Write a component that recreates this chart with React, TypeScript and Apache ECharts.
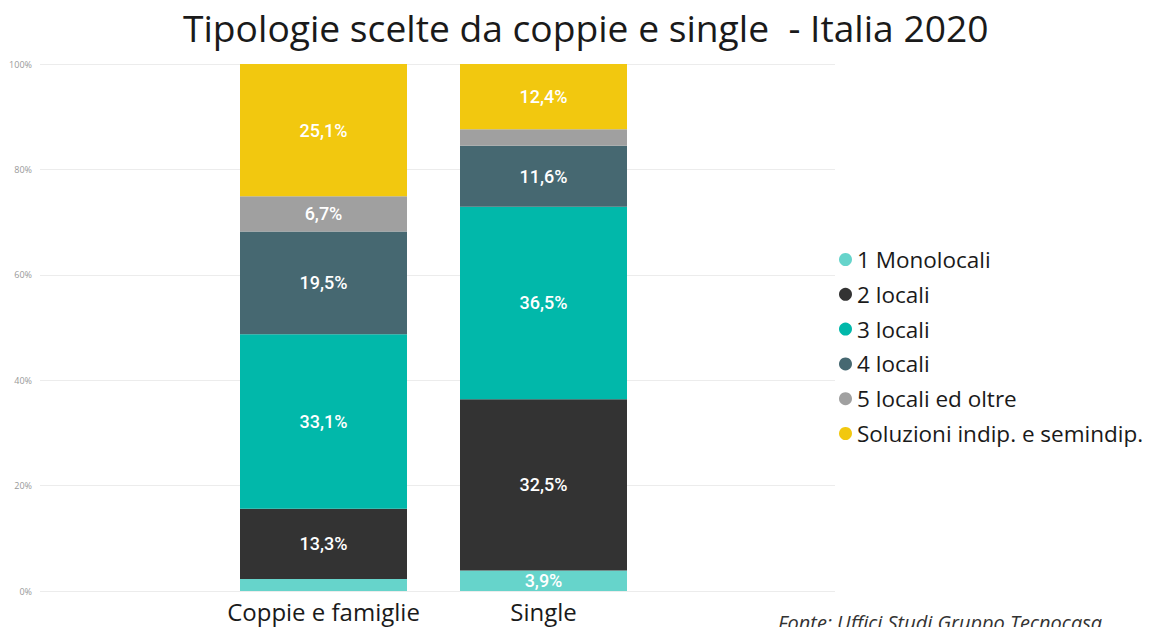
import React, { useEffect, useRef } from "react";
import * as echarts from "echarts";

const categories = ["Coppie e famiglie", "Single"];
const seriesNames = [
  "1 Monolocali",
  "2 locali",
  "3 locali",
  "4 locali",
  "5 locali ed oltre",
  "Soluzioni indip. e semindip.",
];
const monolocali = [2.3, 3.9];
const dueLocali = [13.3, 32.5];
const treLocali = [33.1, 36.5];
const quattroLocali = [19.5, 11.6];
const cinqueLocali = [6.7, 3.1];
const soluzioniIndip = [25.1, 12.4];
const colors = ["#66D4CB", "#333333", "#01B8AA", "#466871", "#A0A0A0", "#F2C80F"];
const yTicks = [0, 20, 40, 60, 80, 100];

export default function App() {
  const ref = useRef<HTMLDivElement>(null);
  useEffect(() => {
    if (!ref.current) return;
    const chart = echarts.init(ref.current, undefined, { renderer: "svg" });
    const values = [monolocali, dueLocali, treLocali, quattroLocali, cinqueLocali, soluzioniIndip];
    const font = "'Open Sans', 'Noto Sans', sans-serif";
    chart.setOption({
      animation: false,
      title: {
        text: "Tipologie scelte da coppie e single  - Italia 2020",
        left: 178,
        top: 4,
        textStyle: { fontFamily: font, fontSize: 37.2, fontWeight: "normal", color: "#1a1a1a" },
      },
      legend: {
        orient: "vertical",
        left: 834,
        top: 243,
        itemWidth: 13,
        itemHeight: 13,
        itemGap: 11.8,
        icon: "circle",
        data: seriesNames,
        textStyle: { fontFamily: font, fontSize: 22.5, color: "#1a1a1a", padding: [0, 0, 0, 0] },
      },
      grid: [
        { left: 40, right: 319, top: 64, bottom: 36, containLabel: false },
        { left: 213.5, width: 440, top: 64, bottom: 36, containLabel: false },
      ],
      xAxis: [
        { gridIndex: 0, type: "category", data: [""], show: false },
        {
          gridIndex: 1,
          type: "category",
          data: categories,
          axisLine: { show: false },
          axisTick: { show: false },
          axisLabel: { interval: 0, hideOverlap: false, fontFamily: font, fontSize: 24, color: "#1a1a1a", margin: 8 },
        },
      ],
      yAxis: [
        {
          gridIndex: 0,
          type: "value",
          min: 0,
          max: 100,
          interval: 20,
          axisLabel: {
            formatter: (v: number) => (yTicks.includes(v) ? v + "%" : ""),
            fontFamily: font,
            fontSize: 9,
            color: "#999999",
            margin: 8,
          },
          splitLine: { lineStyle: { color: "#ececec", width: 1 } },
          axisLine: { show: false },
          axisTick: { show: false },
        },
        { gridIndex: 1, type: "value", min: 0, max: 100, show: false, splitLine: { show: false } },
      ],
      series: seriesNames.map((name, i) => ({
        name,
        type: "bar",
        stack: "total",
        xAxisIndex: 1,
        yAxisIndex: 1,
        barWidth: 167,
        data: values[i],
        itemStyle: { color: colors[i] },
        label: {
          show: true,
          position: "inside",
          color: "#ffffff",
          fontFamily: "Roboto, sans-serif",
          fontWeight: 500,
          fontSize: 18,
          formatter: (p: any) => (p.value >= 3.5 ? String(p.value.toFixed(1)).replace(".", ",") + "%" : ""),
        },
      })),
      graphic: [
        {
          type: "text",
          left: 778,
          top: 612,
          style: {
            text: "Fonte: Uffici Studi Gruppo Tecnocasa",
            font: "italic 20px 'Open Sans', sans-serif",
            fill: "#333333",
          },
        },
      ],
    });
    return () => chart.dispose();
  }, []);
  return (
    <div
      ref={ref}
      style={{ position: "absolute", left: 0, top: 0, width: 1154, height: 627, background: "#ffffff" }}
    />
  );
}
